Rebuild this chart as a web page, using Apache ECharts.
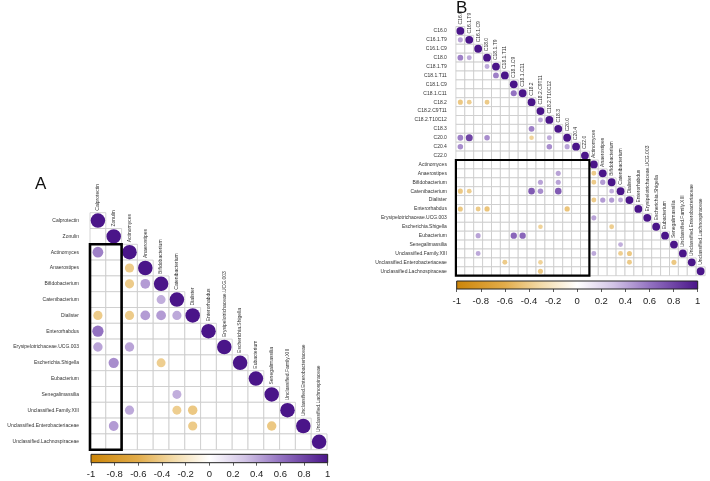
<!DOCTYPE html>
<html>
<head>
<meta charset="utf-8">
<script src="https://cdn.jsdelivr.net/npm/echarts/dist/echarts.min.js"></script>
<style>html,body{margin:0;padding:0;background:#fff;}#c{width:710px;height:481px;}</style>
</head>
<body>
<div id="c"></div>
<script>
// ---------- data ----------
const varsA = ['Calprotectin','Zonulin','Actinomyces','Anaerostipes','Bifidobacterium','Catenibacterium','Dialister','Enterorhabdus','Erysipelotrichaceae.UCG.003','Escherichia.Shigella','Eubacterium','Senegalimassilia','Unclassified.Family.XIII','Unclassified.Enterobacteriaceae','Unclassified.Lachnospiraceae'];
const varsB = ['C16.0','C16.1.T9','C16.1.C9','C18.0','C18.1.T9','C18.1.T11','C18.1.C9','C18.1.C11','C18.2','C18.2.C9T11','C18.2.T10C12','C18.3','C20.0','C20.4','C22.0','Actinomyces','Anaerostipes','Bifidobacterium','Catenibacterium','Dialister','Enterorhabdus','Erysipelotrichaceae.UCG.003','Escherichia.Shigella','Eubacterium','Senegalimassilia','Unclassified.Family.XIII','Unclassified.Enterobacteriaceae','Unclassified.Lachnospiraceae'];

// significant correlations [row, column, r]
const corrA = [
 ['Actinomyces','Calprotectin',0.55],
 ['Anaerostipes','Actinomyces',-0.4],
 ['Bifidobacterium','Actinomyces',-0.4],
 ['Bifidobacterium','Anaerostipes',0.45],
 ['Catenibacterium','Bifidobacterium',0.38],
 ['Dialister','Calprotectin',-0.4],
 ['Dialister','Actinomyces',-0.4],
 ['Dialister','Anaerostipes',0.45],
 ['Dialister','Bifidobacterium',0.45],
 ['Dialister','Catenibacterium',0.4],
 ['Enterorhabdus','Calprotectin',0.6],
 ['Erysipelotrichaceae.UCG.003','Calprotectin',0.42],
 ['Erysipelotrichaceae.UCG.003','Actinomyces',0.42],
 ['Escherichia.Shigella','Zonulin',0.5],
 ['Escherichia.Shigella','Bifidobacterium',-0.38],
 ['Senegalimassilia','Catenibacterium',0.38],
 ['Unclassified.Family.XIII','Actinomyces',0.4],
 ['Unclassified.Family.XIII','Catenibacterium',-0.38],
 ['Unclassified.Family.XIII','Dialister',-0.42],
 ['Unclassified.Enterobacteriaceae','Zonulin',0.45],
 ['Unclassified.Enterobacteriaceae','Dialister',-0.4],
 ['Unclassified.Enterobacteriaceae','Senegalimassilia',-0.42]
];
const corrFatty = [
 ['C16.1.T9','C16.0',0.42],
 ['C18.0','C16.0',0.55],
 ['C18.0','C16.1.T9',0.4],
 ['C18.1.T9','C18.0',0.4],
 ['C18.1.T11','C18.1.T9',0.55],
 ['C18.1.C11','C18.1.C9',0.6],
 ['C18.2','C16.0',-0.42],
 ['C18.2','C16.1.T9',-0.38],
 ['C18.2','C18.0',-0.4],
 ['C18.2.T10C12','C18.2.C9T11',0.4],
 ['C18.3','C18.2',0.55],
 ['C20.0','C16.0',0.55],
 ['C20.0','C16.1.T9',0.8],
 ['C20.0','C18.0',0.5],
 ['C20.0','C18.2',-0.35],
 ['C20.0','C18.2.T10C12',0.4],
 ['C20.4','C16.0',0.5],
 ['C20.4','C18.2.T10C12',0.5],
 ['C20.4','C20.0',0.42]
];
const corrCross = [
 ['Anaerostipes','C18.3',0.42],
 ['Bifidobacterium','C18.2.C9T11',0.42],
 ['Bifidobacterium','C18.3',0.42],
 ['Catenibacterium','C16.0',-0.42],
 ['Catenibacterium','C16.1.T9',-0.38],
 ['Catenibacterium','C18.2',0.7],
 ['Catenibacterium','C18.2.C9T11',0.5],
 ['Catenibacterium','C18.3',0.7],
 ['Enterorhabdus','C16.0',-0.42],
 ['Enterorhabdus','C16.1.C9',-0.4],
 ['Enterorhabdus','C18.0',-0.45],
 ['Enterorhabdus','C20.0',-0.45],
 ['Escherichia.Shigella','C18.2.C9T11',-0.35],
 ['Eubacterium','C16.1.C9',0.42],
 ['Eubacterium','C18.1.C9',0.65],
 ['Eubacterium','C18.1.C11',0.65],
 ['Unclassified.Family.XIII','C16.1.C9',0.4],
 ['Unclassified.Enterobacteriaceae','C18.1.T11',-0.4],
 ['Unclassified.Enterobacteriaceae','C18.2.C9T11',-0.35],
 ['Unclassified.Lachnospiraceae','C18.2.C9T11',-0.42]
];
// highlighted blocks [firstRow, lastRow, firstCol, lastCol]
const boxA = ['Actinomyces','Unclassified.Lachnospiraceae','Calprotectin','Zonulin'];
const boxB = ['Actinomyces','Unclassified.Lachnospiraceae','C16.0','C22.0'];
const barTicks = [-1,-0.8,-0.6,-0.4,-0.2,0,0.2,0.4,0.6,0.8,1];
const paletteStops = [[-1,'#CC8508'],[-0.6,'#E2AC4A'],[-0.3,'#F3DBA9'],[0,'#FFFFFF'],[0.3,'#D2C4E6'],[0.6,'#9372C1'],[1,'#4A1589']];

// ---------- helpers ----------
function hex(c){return [parseInt(c.substr(1,2),16),parseInt(c.substr(3,2),16),parseInt(c.substr(5,2),16)];}
function colorOf(v){
  for(let k=0;k<paletteStops.length-1;k++){
    const a=paletteStops[k], b=paletteStops[k+1];
    if(v<=b[0]){
      const t=(v-a[0])/(b[0]-a[0]); const ca=hex(a[1]), cb=hex(b[1]);
      return 'rgb('+ca.map((x,i)=>Math.round(x+(cb[i]-x)*t)).join(',')+')';
    }
  }
  return paletteStops[paletteStops.length-1][1];
}
function cellsOf(vars){const out=[];for(let i=0;i<vars.length;i++)for(let j=0;j<=i;j++)out.push([j,i]);return out;}
function pointsOf(vars, list){
  const out=[];
  vars.forEach((v,i)=>out.push([i,i,1]));
  list.forEach(e=>{const i=vars.indexOf(e[0]), j=vars.indexOf(e[1]); if(i>=0&&j>=0) out.push([j,i,e[2]]);});
  return out;
}
const FONT='Liberation Sans';
function gridRender(labels, fs){
  return function(params, api){
    const j=api.value(0), i=api.value(1);
    const c=api.coord([j,i]); const s=api.size([1,1]); const w=s[0], h=s[1];
    const ch=[{type:'rect',shape:{x:c[0]-w/2,y:c[1]-h/2,width:w,height:h},style:{fill:'#fff',stroke:'#c9c9c9',lineWidth:0.8}}];
    if(i===j){
      ch.push({type:'text',x:c[0],y:c[1]-h/2-2,rotation:Math.PI/2,style:{text:labels[i],x:0,y:0,fontSize:fs,fontFamily:FONT,fill:'#333',align:'left',verticalAlign:'middle'}});
    }
    return {type:'group',children:ch};
  };
}
function circleRender(rf){
  return function(params, api){
    const j=api.value(0), i=api.value(1), r=api.value(2);
    const c=api.coord([j,i]); const s=api.size([1,1]);
    return {type:'circle',shape:{cx:c[0],cy:c[1],r:rf*s[0]*Math.sqrt(Math.abs(r))},style:{fill:colorOf(r)}};
  };
}
function boxRender(lw){
  return function(params, api){
    const r0=api.value(0), r1=api.value(1), c0=api.value(2), c1=api.value(3);
    const s=api.size([1,1]);
    const p0=api.coord([c0,r0]), p1=api.coord([c1,r1]);
    return {type:'rect',shape:{x:p0[0]-s[0]/2,y:p0[1]-s[1]/2,width:p1[0]-p0[0]+s[0],height:p1[1]-p0[1]+s[1]},style:{fill:'none',stroke:'#000',lineWidth:lw}};
  };
}
function barRender(params, api){
  const p0=api.coord([api.value(0),0]), p1=api.coord([api.value(1),1]);
  return {type:'rect',shape:{x:p0[0],y:p1[1],width:p1[0]-p0[0],height:p0[1]-p1[1]},
    style:{fill:new echarts.graphic.LinearGradient(0,0,1,0,paletteStops.map(s=>({offset:(s[0]+1)/2,color:s[1]}))),stroke:'#222',lineWidth:1}};
}
function boxData(vars, b){return [[vars.indexOf(b[0]),vars.indexOf(b[1]),vars.indexOf(b[2]),vars.indexOf(b[3])]];}

const bactB = corrA.filter(e=>varsB.indexOf(e[0])>=0&&varsB.indexOf(e[1])>=0);
const corrB = corrFatty.concat(corrCross, bactB);

function catX(vars, gi){return {type:'category',gridIndex:gi,data:vars.map((v,i)=>i),show:false};}
function catY(vars, gi, fs, margin){return {type:'category',gridIndex:gi,data:vars,inverse:true,axisLine:{show:false},axisTick:{show:false},axisLabel:{fontSize:fs,fontFamily:FONT,color:'#333',margin:margin}};}
function barX(gi){return {type:'value',gridIndex:gi,min:-1,max:1,interval:0.2,position:'bottom',axisLine:{show:false},splitLine:{show:false},axisTick:{show:true,length:3,lineStyle:{color:'#333',width:0.8}},axisLabel:{fontSize:9.5,fontFamily:FONT,color:'#222',margin:7}};}
function barY(gi){return {type:'value',gridIndex:gi,min:0,max:1,show:false};}

const chart = echarts.init(document.getElementById('c'), null, {renderer:'canvas'});
chart.setOption({
  animation:false,
  backgroundColor:'#fff',
  grid:[
    {left:90,top:212.7,width:237,height:237},
    {left:455.9,top:26.5,width:249.2,height:249.2},
    {left:91,top:454.3,width:236.7,height:8.4},
    {left:456.7,top:281,width:241,height:8}
  ],
  xAxis:[catX(varsA,0),catX(varsB,1),barX(2),barX(3)],
  yAxis:[catY(varsA,0,5,11),catY(varsB,1,5,9),barY(2),barY(3)],
  series:[
    {type:'custom',xAxisIndex:0,yAxisIndex:0,data:cellsOf(varsA),renderItem:gridRender(varsA,5),silent:true},
    {type:'custom',xAxisIndex:0,yAxisIndex:0,data:pointsOf(varsA,corrA),renderItem:circleRender(0.46),silent:true},
    {type:'custom',xAxisIndex:0,yAxisIndex:0,data:boxData(varsA,boxA),renderItem:boxRender(2.6),silent:true},
    {type:'custom',xAxisIndex:1,yAxisIndex:1,data:cellsOf(varsB),renderItem:gridRender(varsB,5),silent:true},
    {type:'custom',xAxisIndex:1,yAxisIndex:1,data:pointsOf(varsB,corrB),renderItem:circleRender(0.44),silent:true},
    {type:'custom',xAxisIndex:1,yAxisIndex:1,data:boxData(varsB,boxB),renderItem:boxRender(2.2),silent:true},
    {type:'custom',xAxisIndex:2,yAxisIndex:2,data:[[barTicks[0],barTicks[barTicks.length-1]]],renderItem:barRender,silent:true},
    {type:'custom',xAxisIndex:3,yAxisIndex:3,data:[[barTicks[0],barTicks[barTicks.length-1]]],renderItem:barRender,silent:true}
  ],
  graphic:[
    {type:'text',left:35,top:176,style:{text:'A',fontSize:17,fontFamily:FONT,fill:'#111'}},
    {type:'text',left:456,top:0,style:{text:'B',fontSize:17,fontFamily:FONT,fill:'#111'}}
  ]
});
</script>
</body>
</html>
